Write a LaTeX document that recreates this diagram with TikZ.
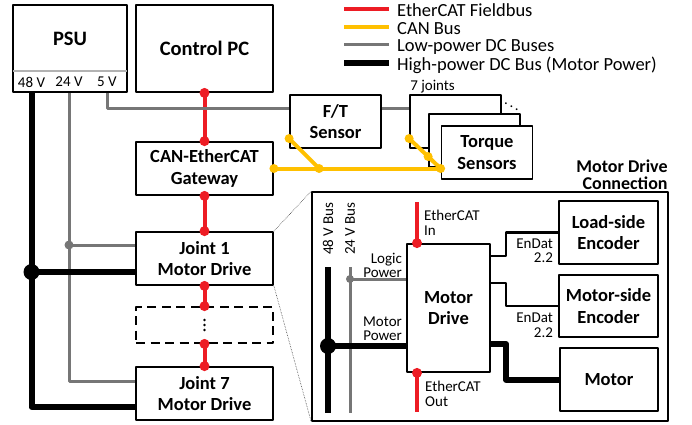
\documentclass[tikz,border=0pt]{standalone}
\usepackage{fontspec}
\setmainfont{Carlito}
\usetikzlibrary{calc}

\definecolor{ecred}{RGB}{237,28,36}
\definecolor{canyellow}{RGB}{255,192,0}
\definecolor{dcgray}{RGB}{118,118,118}

\begin{document}
\begin{tikzpicture}[
  x=1pt,
  y=-1pt,
  line join=round,
  box/.style={
    draw,
    line width=1.8pt,
    fill=white,
    align=center,
    font=\bfseries\fontsize{18.5}{21.5}\selectfont,
    inner sep=2pt
  },
  bigbox/.style={
    box,
    font=\bfseries\fontsize{20.5}{23}\selectfont
  },
  sparebox/.style={
    box,
    dash pattern=on 9pt off 5.5pt
  },
  inset/.style={
    draw,
    line width=1.6pt
  },
  note/.style={
    font=\fontsize{15}{14.5}\selectfont,
    inner sep=1pt
  },
  legendtext/.style={
    font=\fontsize{18.5}{20}\selectfont,
    anchor=base west,
    inner sep=0pt
  },
  ethercat/.style={draw=ecred, line width=4pt},
  canbus/.style={draw=canyellow, line width=4pt},
  lowdc/.style={draw=dcgray, line width=3pt},
  highdc/.style={draw=black, line width=6pt},
  endat/.style={draw=black, line width=2.2pt},
  zoomline/.style={draw=black!75, densely dotted, line width=0.6pt}
]
\useasboundingbox (0,0) rectangle (692,424);

% ------------------------------------------------
% Legend
% ------------------------------------------------
\node[legendtext] (lgec) at (397,16.5) {EtherCAT Fieldbus};
\node[legendtext] (lgcan) at (397,34.5) {CAN Bus};
\node[legendtext] (lglow) at (397,51.5) {Low-power DC Buses};
\node[legendtext] (lghigh) at (397,70.5) {High-power DC Bus (Motor Power)};

\draw[ethercat] ([shift={(-8pt,7.5pt)}]lgec.base west) -- ++(-45,0);
\draw[canbus] ([shift={(-8pt,7.5pt)}]lgcan.base west) -- ++(-45,0);
\draw[lowdc] ([shift={(-8pt,7.5pt)}]lglow.base west) -- ++(-45,0);
\draw[highdc] ([shift={(-8pt,7.5pt)}]lghigh.base west) -- ++(-45,0);

% ------------------------------------------------
% Supply, PC and joint chain
% ------------------------------------------------
\node[bigbox, minimum width=114pt, minimum height=87pt] (psu) at (70,48.5) {};
\node[font=\bfseries\fontsize{20.5}{23}\selectfont] (psuname) at (70,39) {PSU};
\draw[draw=black!30, line width=1.4pt]
  ([shift={(1pt,22pt)}]psu.south west) -- ([shift={(-1pt,22pt)}]psu.south east);
\node[note] (v48) at (31.5,82) {48 V};
\node[note] (v24) at (69,82) {24 V};
\node[note] (v5) at (107,82) {5 V};

\node[bigbox, minimum width=137pt, minimum height=87pt] (pc) at (204.5,48.5)
{Control PC};

\node[box, minimum width=137pt, minimum height=53pt] (gateway) at (204.5,168.5)
{CAN-EtherCAT\\Gateway};

\node[box, minimum width=137pt, minimum height=53pt] (joint1) at (204.5,258.5)
{Joint 1\\Motor Drive};

\node[sparebox, minimum width=137pt, minimum height=36pt] (spare) at (204.5,325) {};
% the skipped joints
\fill ([yshift=5pt]spare.center) circle[radius=1.3pt];
\fill (spare.center) circle[radius=1.3pt];
\fill ([yshift=-5pt]spare.center) circle[radius=1.3pt];

\node[box, minimum width=137pt, minimum height=53pt] (joint7) at (204.5,393.5)
{Joint 7\\Motor Drive};

% ------------------------------------------------
% Sensors
% ------------------------------------------------
\node[box, minimum width=91pt, minimum height=53pt] (ft) at (335.5,121.5)
{F/T\\Sensor};

\node[box, minimum width=91pt, minimum height=53pt] (tqback) at (455.5,121.5) {};
\node[box, minimum width=91pt, minimum height=53pt] (tqmid) at (474.5,140.5) {};
\node[box, minimum width=91pt, minimum height=53pt] (tqfront) at (487,152.5)
{Torque\\Sensors};

\node[note, anchor=south west] (joints) at (tqback.north west) {7 joints};
\node[font=\fontsize{15}{15}\selectfont, inner sep=0pt] (tqdots)
  at ($(tqback.north east)!0.5!(tqmid.north east)$) {$\ddots$};

% ------------------------------------------------
% Fieldbus and power wiring
% ------------------------------------------------
\draw[ethercat] (pc.south) -- (gateway.north);
\draw[ethercat] (gateway.south) -- (joint1.north);
\draw[ethercat] (joint1.south) -- (spare.north);
\draw[ethercat] (spare.south) -- (joint7.north);
\fill[ecred] (pc.south) circle[radius=5pt];
\fill[ecred] (gateway.north) circle[radius=5pt];
\fill[ecred] (gateway.south) circle[radius=5pt];
\fill[ecred] (joint1.north) circle[radius=5pt];
\fill[ecred] (joint1.south) circle[radius=5pt];
\fill[ecred] (spare.north) circle[radius=5pt];
\fill[ecred] (spare.south) circle[radius=5pt];
\fill[ecred] (joint7.north) circle[radius=5pt];

% 5 V feeds the sensors
\coordinate (ftin) at ([yshift=13.5pt]ft.west);
\draw[lowdc] (v5 |- psu.south) |- (ftin);
\draw[lowdc] (ftin -| ft.east) -- (ftin -| tqback.west);

% 24 V logic supply
\coordinate (j1logic) at ([yshift=13.5pt]joint1.west);
\draw[lowdc] (v24 |- psu.south) |- ([yshift=12.5pt]joint7.west);
\draw[lowdc] (j1logic) -- (j1logic -| v24);
\fill[dcgray] (j1logic -| v24) circle[radius=4.5pt];

% 48 V motor supply
\coordinate (j1motor) at ([yshift=-13.5pt]joint1.west);
\draw[highdc] (v48 |- psu.south) |- ([yshift=-13.5pt]joint7.west);
\draw[highdc] (j1motor) -- (j1motor -| v48);
\fill (j1motor -| v48) circle[radius=8pt];

% CAN bus
\coordinate (gwbus) at (gateway.east -| tqfront.west);
\coordinate (ftcan) at ([yshift=-17pt]ft.west);
\coordinate (tqcan) at ([yshift=-17pt]tqback.west);
\coordinate (tqmidcan) at ([yshift=-16pt]tqmid.west);
\draw[canbus] (gateway.east) -- (gwbus);
\draw[canbus] (ftcan) -- ++(30,30) coordinate (ftjoin);
\draw[canbus] (tqcan) -- (tqmidcan) -- (gwbus);
\fill[canyellow] (gateway.east) circle[radius=4.5pt];
\fill[canyellow] (gwbus) circle[radius=4.5pt];
\fill[canyellow] (ftcan) circle[radius=4.5pt];
\fill[canyellow] (ftjoin) circle[radius=4.5pt];
\fill[canyellow] (tqcan) circle[radius=4.5pt];
\fill[canyellow] (tqmidcan) circle[radius=4.5pt];

% ------------------------------------------------
% Motor drive connection (detail of joint 1)
% ------------------------------------------------
\node[inset, minimum width=356pt, minimum height=229pt] (conn) at (490,306.5) {};
\node[font=\bfseries\fontsize{18}{17}\selectfont, align=right, anchor=south east,
  inner sep=1pt] (conntitle) at (conn.north east) {Motor Drive\\Connection};

\draw[zoomline] (joint1.north east) -- (conn.north west);
\draw[zoomline] (joint1.south east) -- (conn.south west);

\node[box, minimum width=83pt, minimum height=128pt] (drive) at (448.5,308)
{Motor\\Drive};
\node[box, minimum width=99pt, minimum height=63pt] (loadenc) at (608.5,232.5)
{Load-side\\Encoder};
\node[box, minimum width=99pt, minimum height=62pt] (motorenc) at (608.5,306)
{Motor-side\\Encoder};
\node[box, minimum width=98pt, minimum height=63pt] (motor) at (609,379.5)
{Motor};

% supply buses
\coordinate (bus48top) at (328,267);
\coordinate (bus48bot) at (328,413);
\coordinate (bus24top) at (350,267);
\coordinate (bus24bot) at (350,413);
\node[note, rotate=90, anchor=west] (lbl48) at (328,256) {48 V Bus};
\node[note, rotate=90, anchor=west] (lbl24) at (350,256) {24 V Bus};

\coordinate (logic) at ([yshift=29pt]drive.west);
\draw[lowdc] (bus24top) -- (bus24bot);
\draw[lowdc] (logic) -- (logic -| bus24top);
\fill[dcgray] (logic -| bus24top) circle[radius=4pt];
\node[note, align=right, anchor=south east] (logiclbl) at ([xshift=-3pt]logic)
{Logic\\Power};

\coordinate (mpower) at ([yshift=-38pt]drive.west);
\draw[highdc] (bus48top) -- (bus48bot);
\draw[highdc] (mpower) -- (mpower -| bus48top);
\fill (mpower -| bus48top) circle[radius=8pt];
\node[note, align=right, anchor=south east] (mpowerlbl) at ([shift={(-3pt,4pt)}]mpower)
{Motor\\Power};

% EtherCAT through the drive
\coordinate (ecin) at (417,202);
\coordinate (ecout) at (417,412);
\coordinate (ecoutstart) at (ecout |- drive.south);
\draw[ethercat] (ecin) -- (ecin |- drive.north);
\draw[ethercat] (ecoutstart) -- (ecout);
\fill[ecred] (ecin |- drive.north) circle[radius=5pt];
\fill[ecred] (ecoutstart) circle[radius=5pt];
\node[note, align=left, anchor=north west] (ecinlbl) at ([shift={(6pt,-7pt)}]ecin)
{EtherCAT\\In};
\node[note, align=left, anchor=north west] (ecoutlbl) at ([shift={(7pt,-7pt)}]ecoutstart)
{EtherCAT\\Out};

% encoders and motor phases
\draw[endat] ([yshift=-13pt]drive.north east) -- ++(15,0) |- (loadenc.west);
\draw[endat] ([yshift=25pt]drive.east) -- ++(15,0) |- (motorenc.west);
\draw[highdc] ([yshift=29pt]drive.south east) -- ++(15,0) |- (motor.west);

\node[note, align=right, anchor=north east] (endat1) at ([shift={(-4pt,-5pt)}]loadenc.west)
{EnDat\\2.2};
\node[note, align=right, anchor=north east] (endat2) at ([shift={(-4pt,-6pt)}]motorenc.west)
{EnDat\\2.2};

\end{tikzpicture}
\end{document}
